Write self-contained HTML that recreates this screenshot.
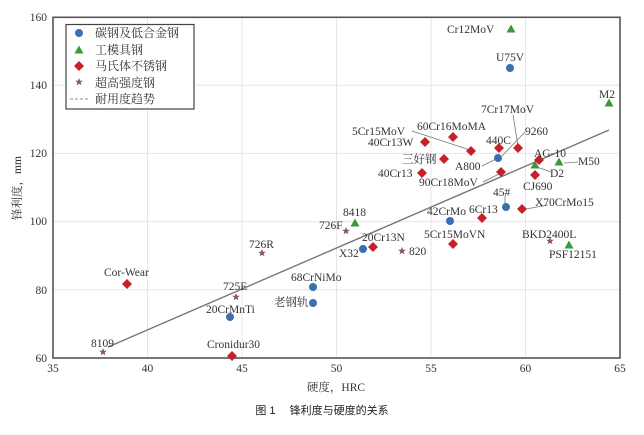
<!DOCTYPE html>
<html><head><meta charset="utf-8"><style>
body{margin:0;background:#fff;}
svg text{font-family:"Liberation Serif","Noto Serif CJK SC",serif;font-size:11.5px;fill:#333;}
</style></head><body>
<svg width="644" height="430" viewBox="0 0 644 430" xmlns="http://www.w3.org/2000/svg">
<defs>
<g id="c"><circle r="4" fill="#3b6fb0"/></g>
<g id="t"><polygon points="0,-4.5 4.5,3.5 -4.5,3.5" fill="#3a9a3a"/></g>
<g id="d"><polygon points="0,-5 5,0 0,5 -5,0" fill="#c8202a"/></g>
<g id="s"><polygon points="0,-4 1.1,-1.3 3.8,-1.2 1.7,0.6 2.4,3.3 0,1.7 -2.4,3.3 -1.7,0.6 -3.8,-1.2 -1.1,-1.3" fill="#8b5a5a"/></g>
</defs>
<g stroke="#e6e6e6" stroke-width="1">
<line x1="147.5" y1="17" x2="147.5" y2="358"/><line x1="242" y1="17" x2="242" y2="358"/><line x1="336.5" y1="17" x2="336.5" y2="358"/><line x1="431" y1="17" x2="431" y2="358"/><line x1="525.5" y1="17" x2="525.5" y2="358"/>
<line x1="53" y1="85.2" x2="620" y2="85.2"/><line x1="53" y1="153.4" x2="620" y2="153.4"/><line x1="53" y1="221.6" x2="620" y2="221.6"/><line x1="53" y1="289.8" x2="620" y2="289.8"/>
</g>
<rect x="53" y="17.3" width="567" height="340.7" fill="none" stroke="#555" stroke-width="1.6"/>
<g>
<text x="47" y="21" text-anchor="end">160</text><text x="47" y="89" text-anchor="end">140</text><text x="47" y="157" text-anchor="end">120</text><text x="47" y="225" text-anchor="end">100</text><text x="47" y="294" text-anchor="end">80</text><text x="47" y="362" text-anchor="end">60</text>
<text x="53" y="372" text-anchor="middle">35</text><text x="147.5" y="372" text-anchor="middle">40</text><text x="242" y="372" text-anchor="middle">45</text><text x="336.5" y="372" text-anchor="middle">50</text><text x="431" y="372" text-anchor="middle">55</text><text x="525.5" y="372" text-anchor="middle">60</text><text x="620" y="372" text-anchor="middle">65</text>
</g>
<text x="0" y="0" transform="translate(21,188) rotate(-90)" text-anchor="middle">锋利度，mm</text>
<text x="336" y="391" text-anchor="middle">硬度，HRC</text>
<text x="322" y="414" text-anchor="middle" style="font-family:'Liberation Sans','Noto Sans CJK SC',sans-serif;font-size:11px;fill:#222">图 1　 锋利度与硬度的关系</text>
<line x1="108" y1="347" x2="609" y2="130" stroke="#777" stroke-width="1.4"/>
<g stroke="#777" stroke-width="0.8">
<line x1="412" y1="131" x2="470" y2="150"/><line x1="513" y1="115" x2="518" y2="146"/><line x1="525" y1="132" x2="502" y2="156"/><line x1="482" y1="166" x2="496" y2="159"/><line x1="483" y1="182" x2="499" y2="174"/><line x1="537" y1="167" x2="551" y2="172"/><line x1="564" y1="163" x2="578" y2="162"/><line x1="505" y1="196" x2="505" y2="204"/><line x1="526" y1="209" x2="548" y2="205"/>
</g>
<use href="#c" x="510" y="68"/><use href="#c" x="450" y="221"/><use href="#c" x="506" y="207"/><use href="#c" x="498" y="158"/><use href="#c" x="363" y="249"/><use href="#c" x="313" y="287"/><use href="#c" x="313" y="303"/><use href="#c" x="230" y="317"/>
<use href="#t" x="511" y="29"/><use href="#t" x="609" y="103"/><use href="#t" x="559" y="162"/><use href="#t" x="535" y="165"/><use href="#t" x="355" y="223"/><use href="#t" x="569" y="245"/>
<use href="#d" x="453" y="137"/><use href="#d" x="471" y="151"/><use href="#d" x="425" y="142"/><use href="#d" x="499" y="148"/><use href="#d" x="518" y="148"/><use href="#d" x="444" y="159"/><use href="#d" x="422" y="173"/><use href="#d" x="501" y="172"/><use href="#d" x="539" y="160"/><use href="#d" x="535" y="175"/><use href="#d" x="522" y="209"/><use href="#d" x="482" y="218"/><use href="#d" x="453" y="244"/><use href="#d" x="373" y="247"/><use href="#d" x="127" y="284"/><use href="#d" x="232" y="356"/>
<use href="#s" x="346" y="231"/><use href="#s" x="402" y="251"/><use href="#s" x="550" y="241"/><use href="#s" x="262" y="253"/><use href="#s" x="236" y="297"/><use href="#s" x="103" y="352"/>
<g>
<text x="447" y="33">Cr12MoV</text><text x="496" y="61">U75V</text><text x="599" y="98">M2</text>
<text x="481" y="113">7Cr17MoV</text><text x="417" y="130">60Cr16MoMA</text><text x="352" y="135">5Cr15MoV</text><text x="368" y="146">40Cr13W</text><text x="486" y="144">440C</text><text x="525" y="135">9260</text>
<text x="534" y="157">AG-10</text><text x="578" y="165">M50</text><text x="402" y="163">三好钢</text><text x="455" y="170">A800</text><text x="378" y="177">40Cr13</text><text x="550" y="177">D2</text>
<text x="419" y="186">90Cr18MoV</text><text x="523" y="190">CJ690</text><text x="493" y="196">45#</text><text x="535" y="206">X70CrMo15</text>
<text x="427" y="215">42CrMo</text><text x="469" y="213">6Cr13</text><text x="343" y="216">8418</text><text x="319" y="229">726F</text>
<text x="424" y="238">5Cr15MoVN</text><text x="362" y="241">20Cr13N</text><text x="522" y="238">BKD2400L</text><text x="339" y="257">X32</text><text x="409" y="255">820</text><text x="549" y="258">PSF12151</text>
<text x="249" y="248">726R</text><text x="291" y="281">68CrNiMo</text><text x="274" y="306">老钢轨</text>
<text x="104" y="276">Cor-Wear</text><text x="223" y="290">725E</text><text x="206" y="313">20CrMnTi</text><text x="207" y="348">Cronidur30</text><text x="91" y="347">8109</text>
</g>
<rect x="66" y="24.5" width="128" height="84.5" fill="#fff" stroke="#444" stroke-width="1.2"/>
<use href="#c" x="79" y="33"/><use href="#t" x="79" y="50"/><use href="#d" x="79" y="66"/><use href="#s" x="79" y="82"/>
<line x1="70" y1="99" x2="90" y2="99" stroke="#888" stroke-dasharray="3,2"/>
<g style="font-size:12px"><text x="95" y="37" style="font-size:12px">碳钢及低合金钢</text><text x="95" y="54" style="font-size:12px">工模具钢</text><text x="95" y="70" style="font-size:12px">马氏体不锈钢</text><text x="95" y="87" style="font-size:12px">超高强度钢</text><text x="95" y="103" style="font-size:12px">耐用度趋势</text></g>
</svg>
</body></html>
